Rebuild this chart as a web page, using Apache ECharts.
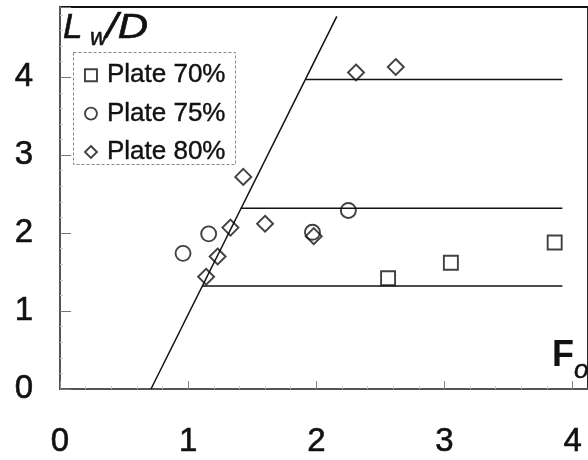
<!DOCTYPE html>
<html>
<head>
<meta charset="utf-8">
<script src="https://cdn.jsdelivr.net/npm/echarts@6/dist/echarts.min.js"></script>
<style>
  html, body { margin: 0; padding: 0; background: #fff; }
  #chart { width: 588px; height: 460px; }
</style>
</head>
<body>
<div id="chart"></div>
<script>
// Measured L_w/D against F_o for three plate openings
const seriesNames = ['Plate 70%', 'Plate 75%', 'Plate 80%'];
const plate70 = [[2.56, 1.42], [3.05, 1.62], [3.86, 1.88]];
const plate75 = [[0.96, 1.74], [1.16, 1.99], [1.97, 2.01], [2.25, 2.29]];
const plate80 = [[1.14, 1.44], [1.23, 1.70], [1.33, 2.07], [1.43, 2.72],
                 [1.60, 2.12], [1.98, 1.96], [2.31, 4.06], [2.62, 4.13]];

// Envelope: rising limit line and three plateau levels
const risingLine = [[0.71, 0], [2.16, 4.78]];
const plateauHigh = [[1.92, 3.97], [3.92, 3.97]];
const plateauMid = [[1.41, 2.32], [3.92, 2.32]];
const plateauLow = [[1.11, 1.32], [3.92, 1.32]];

const FONT = '"Liberation Sans", Arial, sans-serif';
const INK = '#111';

const chart = echarts.init(document.getElementById('chart'), null, { renderer: 'canvas' });

const markerStyle = { color: 'rgba(255,255,255,0)', borderColor: INK, borderWidth: 1.9 };
const lineSeries = (name, data) => ({
  name, type: 'line', data, showSymbol: false, symbol: 'none',
  lineStyle: { color: INK, width: 1.5 }, z: 2, silent: true
});
// slightly heavier glyphs for the printed look of the labels
const heavy = { textBorderColor: INK, textBorderWidth: 0.6 };

chart.setOption({
  animation: false,
  backgroundColor: '#fff',
  grid: {
    left: 60, top: 7, right: 0, bottom: 71,
    show: true, borderColor: INK, borderWidth: 1.8, backgroundColor: 'transparent'
  },
  xAxis: {
    type: 'value', min: 0, max: 4.12, interval: 1,
    axisLine: { lineStyle: { color: '#555', width: 2 } },
    axisTick: { inside: true, length: 8, lineStyle: { color: '#888', width: 1 } },
    minorTick: { show: true, splitNumber: 5, length: 3, lineStyle: { color: '#ccc' } },
    splitLine: { show: false },
    axisLabel: Object.assign({ fontFamily: FONT, fontSize: 33, color: INK, margin: 36, showMaxLabel: false }, heavy)
  },
  yAxis: {
    type: 'value', min: 0, max: 4.9, interval: 1,
    axisLine: { lineStyle: { color: '#555', width: 2 } },
    axisTick: { inside: true, length: 11, lineStyle: { color: '#777', width: 1 } },
    minorTick: { show: true, splitNumber: 5, length: 3, lineStyle: { color: '#ccc' } },
    splitLine: { show: false },
    axisLabel: Object.assign({ fontFamily: FONT, fontSize: 33, color: INK, margin: 27, showMaxLabel: false }, heavy)
  },
  legend: {
    orient: 'vertical', left: 73, top: 52,
    padding: [10, 7, 3, 11],
    itemWidth: 12, itemHeight: 12, itemGap: 12,
    textStyle: Object.assign({ fontFamily: FONT, fontSize: 26, color: INK, lineHeight: 26, padding: [0, 0, 0, 5] }, { textBorderColor: INK, textBorderWidth: 0.4 }),
    itemStyle: markerStyle,
    data: [
      { name: seriesNames[0], icon: 'rect' },
      { name: seriesNames[1], icon: 'circle' },
      { name: seriesNames[2], icon: 'diamond' }
    ]
  },
  graphic: [
    // dashed frame around the legend
    { type: 'rect', shape: { x: 73.5, y: 52.5, width: 162, height: 112 },
      style: { fill: 'none', stroke: '#888', lineWidth: 1, lineDash: [3, 2] }, z: 1 },
    // y-axis title L_w/D
    { type: 'text', x: 63, y: 28, style: { text: 'L', font: 'italic 35px ' + FONT, fill: INK, stroke: INK, lineWidth: 0.6, verticalAlign: 'middle' } },
    { type: 'text', x: 90, y: 38, style: { text: 'w', font: 'italic 24px ' + FONT, fill: INK, stroke: INK, lineWidth: 0.5, verticalAlign: 'middle' } },
    { type: 'text', x: 106, y: 28, scaleX: 1.2, style: { text: '/D', font: 'italic 35px ' + FONT, fill: INK, stroke: INK, lineWidth: 0.6, verticalAlign: 'middle' } },
    // x-axis title F_o
    { type: 'text', x: 552, y: 356, style: { text: 'F', font: 'bold 36px ' + FONT, fill: INK, verticalAlign: 'middle' } },
    { type: 'text', x: 574, y: 371, style: { text: 'o', font: 'italic 26px ' + FONT, fill: INK, stroke: INK, lineWidth: 0.5, verticalAlign: 'middle' } }
  ],
  series: [
    lineSeries('rising', risingLine),
    lineSeries('high', plateauHigh),
    lineSeries('mid', plateauMid),
    lineSeries('low', plateauLow),
    { name: seriesNames[0], type: 'scatter', symbol: 'rect', symbolSize: 14, data: plate70, itemStyle: markerStyle, z: 3 },
    { name: seriesNames[1], type: 'scatter', symbol: 'circle', symbolSize: 15, data: plate75, itemStyle: markerStyle, z: 3 },
    { name: seriesNames[2], type: 'scatter', symbol: 'diamond', symbolSize: 16, data: plate80, itemStyle: markerStyle, z: 3 }
  ]
});
</script>
</body>
</html>
